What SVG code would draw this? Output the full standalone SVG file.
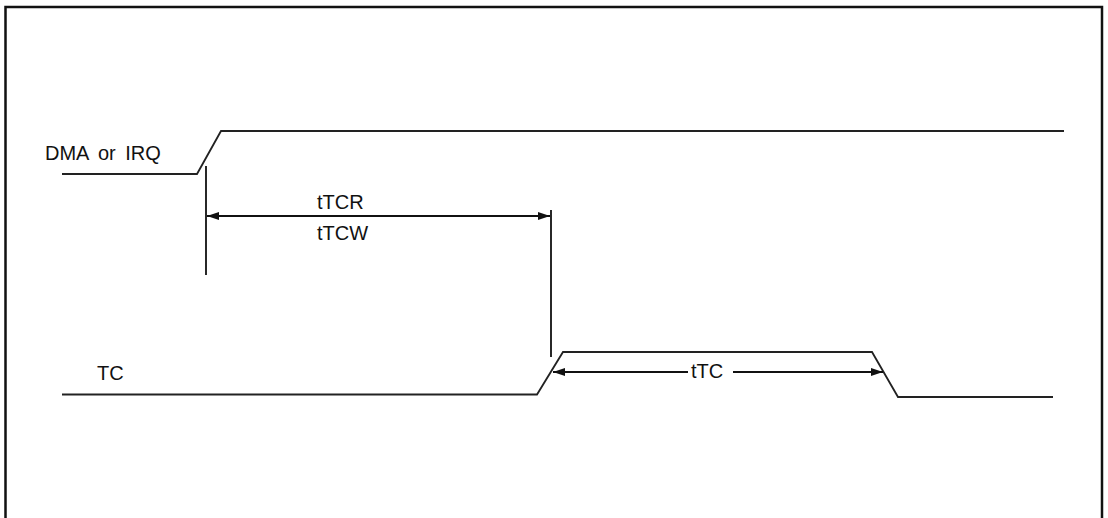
<svg xmlns="http://www.w3.org/2000/svg" width="1108" height="518" viewBox="0 0 1108 518">
<style>
.sig{fill:none;stroke:#222;stroke-width:1.8;stroke-linejoin:miter}
.dim{fill:none;stroke:#111;stroke-width:1.8}
.lbl{font-family:"Liberation Sans",Arial,sans-serif;font-size:20px;fill:#111}
</style>
<defs>
<marker id="ah" viewBox="0 0 12 8" refX="12" refY="4" markerWidth="12" markerHeight="8" markerUnits="userSpaceOnUse" orient="auto-start-reverse">
<path d="M0,0 L12,4 L0,8 Z" fill="#111"/>
</marker>
</defs>
<rect x="0" y="0" width="1108" height="518" fill="#fff"/>
<path d="M5.5,530 V7 H1102 V530" fill="none" stroke="#111" stroke-width="2.5"/>
<g id="dma">
<path class="sig" d="M62,174 H197 L221,131 H1064"/>
<text class="lbl" x="45" y="160" font-size="21" word-spacing="4">DMA or IRQ</text>
</g>
<g id="tc">
<path class="sig" d="M62,394.5 H537 L563,352 H872 L898,397 H1053"/>
<text class="lbl" x="97" y="380">TC</text>
</g>
<g id="connectors">
<line class="dim" x1="206" y1="166" x2="206" y2="275"/>
<line class="dim" x1="551" y1="210" x2="551" y2="357"/>
<line class="dim" x1="207" y1="216" x2="550" y2="216" marker-start="url(#ah)" marker-end="url(#ah)"/>
<line class="dim" x1="553" y1="372" x2="688" y2="372" marker-start="url(#ah)"/>
<line class="dim" x1="733" y1="372" x2="883" y2="372" marker-end="url(#ah)"/>
</g>
<g id="labels">
<text class="lbl" x="317" y="209">tTCR</text>
<text class="lbl" x="317" y="240">tTCW</text>
<text class="lbl" x="691" y="378">tTC</text>
</g>
</svg>
